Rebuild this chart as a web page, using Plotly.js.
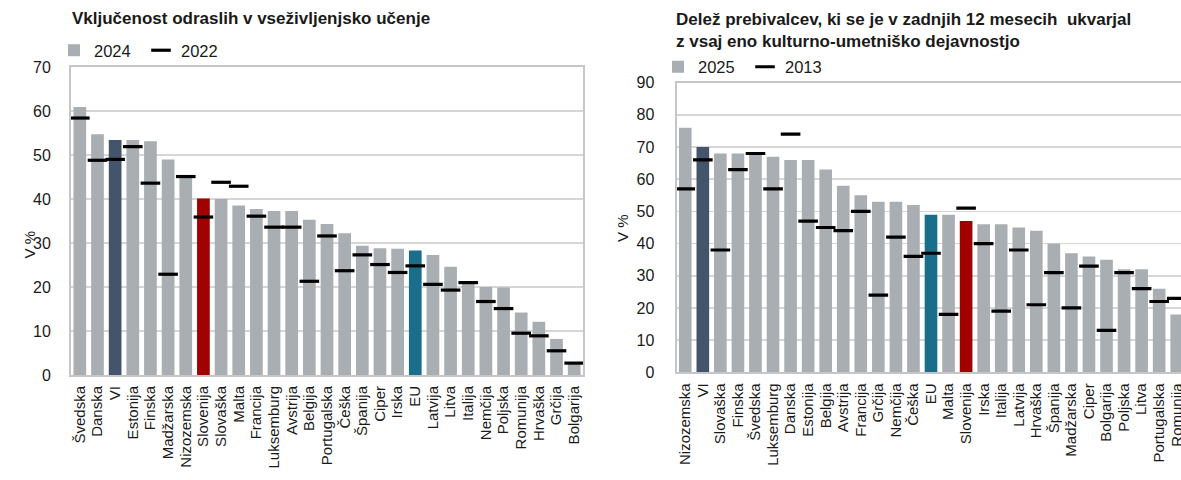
<!DOCTYPE html>
<html>
<head>
<meta charset="utf-8">
<script src="https://cdn.plot.ly/plotly-3.0.1.min.js"></script>
<style>
html, body { margin: 0; padding: 0; overflow: hidden; background: #fff; }
#chart { width: 1186px; height: 480px; }
</style>
</head>
<body>
<div id="chart"></div>
<script>
// ---- Data: left chart (lifelong learning) ----
const lifelongCats = ['Švedska','Danska','VI','Estonija','Finska','Madžarska','Nizozemska','Slovenija','Slovaška','Malta','Francija','Luksemburg','Avstrija','Belgija','Portugalska','Češka','Španija','Ciper','Irska','EU','Latvija','Litva','Italija','Nemčija','Poljska','Romunija','Hrvaška','Grčija','Bolgarija'];
const lifelong2024 = [60.9,54.7,53.4,53.4,53.1,49.0,45.1,40.1,40.0,38.5,37.7,37.3,37.3,35.3,34.3,32.2,29.4,28.8,28.7,28.3,27.3,24.6,21.1,20.0,19.9,14.2,12.1,8.2,2.5];
const lifelong2022 = [58.4,48.8,49.0,51.9,43.6,22.9,45.1,35.9,43.8,42.9,36.1,33.6,33.6,21.3,31.6,23.7,27.3,25.1,23.3,24.8,20.6,19.3,21.0,16.7,15.1,9.5,8.9,5.5,2.7];

// ---- Data: right chart (cultural-artistic activity) ----
const culturalCats = ['Nizozemska','VI','Slovaška','Finska','Švedska','Luksemburg','Danska','Estonija','Belgija','Avstrija','Francija','Grčija','Nemčija','Češka','EU','Malta','Slovenija','Irska','Italija','Latvija','Hrvaška','Španija','Madžarska','Ciper','Bolgarija','Poljska','Litva','Portugalska','Romunija'];
const cultural2025 = [76,70,68,68,67.7,67,66,66,63,58,55,53,53,52,49,49,47,46,46,45,44,40,37,36,35,32,32,26,18];
const cultural2013 = [57,66,38,63,68,57,74,47,45,44,50,24,42,36,37,18,51,40,19,38,21,31,20,33,13,31,26,22,23];

// ---- Labels ----
const leftTitle = 'Vključenost odraslih v vseživljenjsko učenje';
const rightTitle = 'Delež prebivalcev, ki se je v zadnjih 12 mesecih  ukvarjal<br>z vsaj eno kulturno-umetniško dejavnostjo';
const leftYears = ['2024', '2022'];
const rightYears = ['2025', '2013'];
const yTitle = 'V %';

// ---- Styles ----
const GREY = '#A9AEB3';
const highlight = { 'VI': '#44546A', 'Slovenija': '#A00000', 'EU': '#1B6E8B' };
const colorFor = c => highlight[c] || GREY;
const W = 1186, H = 480;
const TXT = '#1a1a1a';
const tickFont = { family: 'Liberation Sans, Arial, sans-serif', size: 15, color: TXT };
const yTickFont = { family: 'Liberation Sans, Arial, sans-serif', size: 16, color: TXT };
const titleFont = { family: 'Liberation Sans, Arial, sans-serif', size: 17, color: TXT, weight: 'bold' };
const legFont = { family: 'Liberation Sans, Arial, sans-serif', size: 16.5, color: TXT };

const px = v => v / W;
const py = v => (H - v) / H;

const traces = [
  { type: 'bar', x: lifelongCats, y: lifelong2024, name: leftYears[0],
    marker: { color: lifelongCats.map(colorFor) }, xaxis: 'x', yaxis: 'y', legend: 'legend', hoverinfo: 'skip' },
  { type: 'scatter', mode: 'markers', x: lifelongCats, y: lifelong2022, name: leftYears[1],
    marker: { symbol: 'line-ew', size: 14, color: '#000', line: { color: '#000', width: 3.2 } },
    xaxis: 'x', yaxis: 'y', legend: 'legend', hoverinfo: 'skip' },
  { type: 'bar', x: culturalCats, y: cultural2025, name: rightYears[0],
    marker: { color: culturalCats.map(colorFor) }, xaxis: 'x2', yaxis: 'y2', legend: 'legend2', hoverinfo: 'skip' },
  { type: 'scatter', mode: 'markers', x: culturalCats, y: cultural2013, name: rightYears[1],
    marker: { symbol: 'line-ew', size: 14, color: '#000', line: { color: '#000', width: 3.2 } },
    xaxis: 'x2', yaxis: 'y2', legend: 'legend2', hoverinfo: 'skip' }
];

const xBase = {
  type: 'category', tickangle: -90, tickfont: tickFont, ticks: '', automargin: false,
  tickmode: 'linear', tick0: 0, dtick: 1,
  showline: true, mirror: true, linecolor: '#C6C6C6', linewidth: 2, showgrid: false,
  ticklabelstandoff: 3, fixedrange: true
};
const yBase = {
  tickfont: yTickFont, ticks: '', automargin: false, dtick: 10,
  showline: true, mirror: true, linecolor: '#C6C6C6', linewidth: 2,
  gridcolor: '#D6D6D6', gridwidth: 1.5, zeroline: false, fixedrange: true
};

const layout = {
  width: W, height: H,
  margin: { l: 0, r: 0, t: 0, b: 0 },
  paper_bgcolor: '#fff', plot_bgcolor: '#fff',
  bargap: 0.28,
  showlegend: true,
  xaxis: Object.assign({}, xBase, { domain: [px(71), px(583)], anchor: 'y', range: [-0.5, lifelongCats.length - 0.5] }),
  yaxis: Object.assign({}, yBase, { domain: [py(375), py(67)], range: [0, 70], anchor: 'x', ticklabelstandoff: 15 }),
  xaxis2: Object.assign({}, xBase, { domain: [px(676.5), px(1185.5)], anchor: 'y2', range: [-0.5, culturalCats.length - 0.5] }),
  yaxis2: Object.assign({}, yBase, { domain: [py(372.3), py(82.7)], range: [0, 90], anchor: 'x2', ticklabelstandoff: 17 }),
  legend: { orientation: 'h', x: px(54), y: py(50.5), xanchor: 'left', yanchor: 'middle',
            font: legFont, bgcolor: 'rgba(0,0,0,0)', entrywidth: 42, itemclick: false, itemdoubleclick: false },
  legend2: { orientation: 'h', x: px(658), y: py(67), xanchor: 'left', yanchor: 'middle',
             font: legFont, bgcolor: 'rgba(0,0,0,0)', entrywidth: 42, itemclick: false, itemdoubleclick: false },
  annotations: [
    { text: leftTitle, xref: 'paper', yref: 'paper', x: px(70), y: py(19), xanchor: 'left', yanchor: 'middle',
      showarrow: false, font: titleFont },
    { text: rightTitle, xref: 'paper', yref: 'paper', x: px(674), y: py(30), xanchor: 'left', yanchor: 'middle',
      showarrow: false, font: titleFont, align: 'left' },
    { text: yTitle, xref: 'paper', yref: 'paper', x: px(18), y: py(245), textangle: -90,
      showarrow: false, font: tickFont },
    { text: yTitle, xref: 'paper', yref: 'paper', x: px(622), y: py(228), textangle: -90,
      showarrow: false, font: tickFont }
  ]
};

Plotly.newPlot('chart', traces, layout, { staticPlot: true, displayModeBar: false });
</script>
</body>
</html>
